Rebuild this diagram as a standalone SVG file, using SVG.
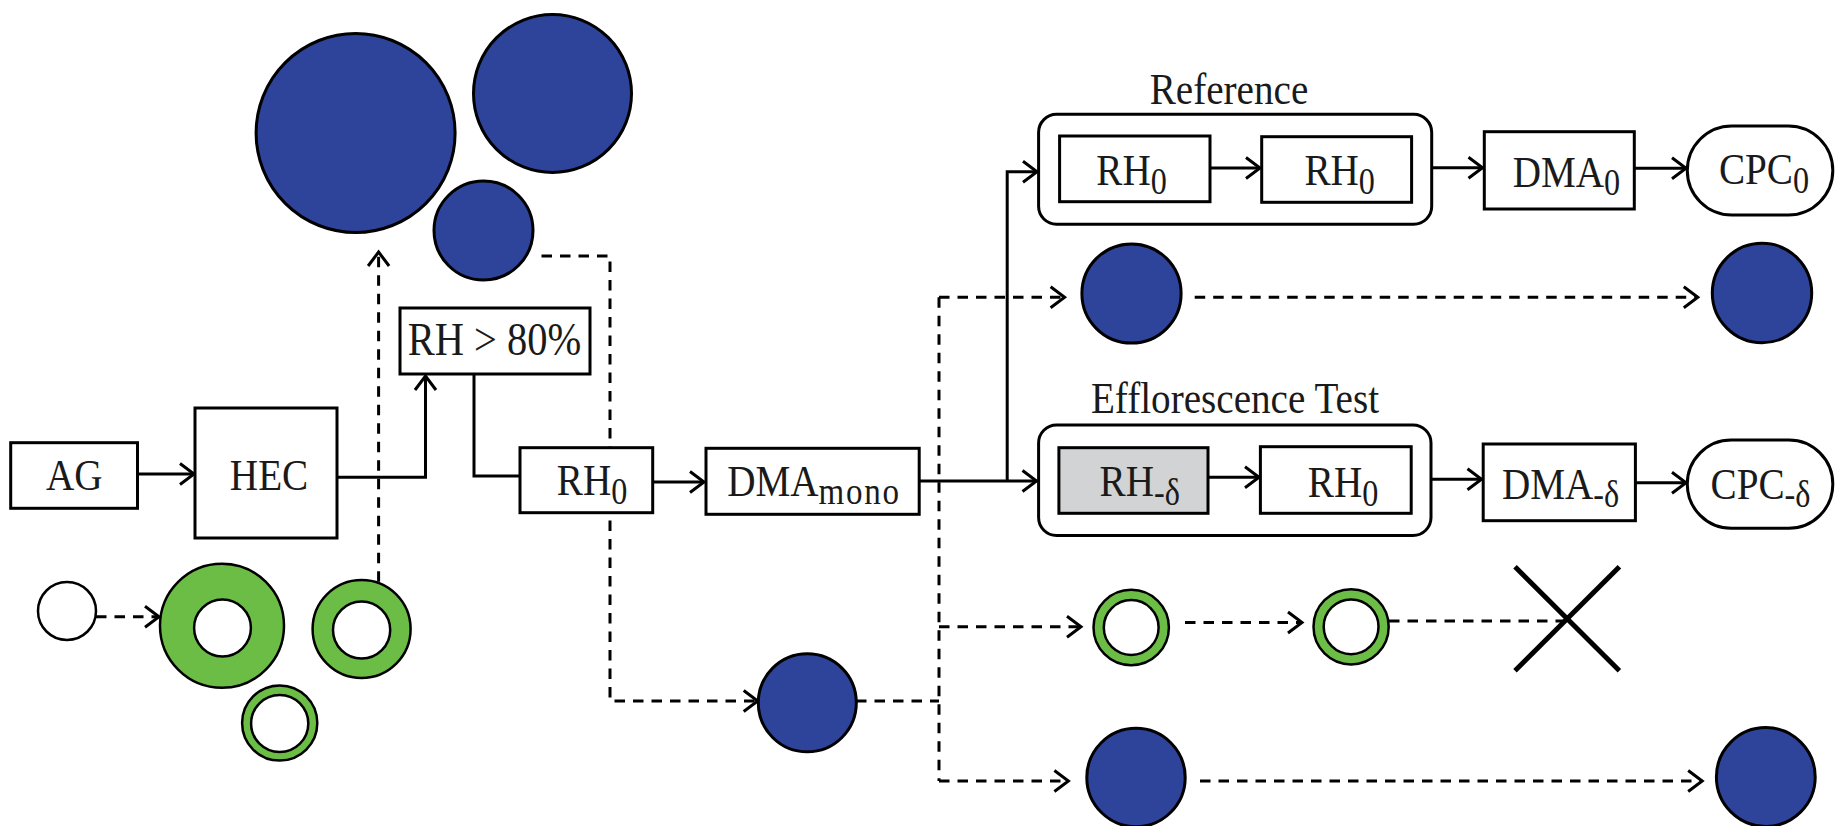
<svg xmlns="http://www.w3.org/2000/svg" width="1835" height="826" viewBox="0 0 1835 826">
<style>
.box{fill:#fff;stroke:#000;stroke-width:3}
.frame{fill:none;stroke:#000;stroke-width:3}
.gray{fill:#d1d3d4;stroke:#000;stroke-width:3}
.blue{fill:#2e449b;stroke:#000;stroke-width:3}
.green{fill:#6bbd45;stroke:#000;stroke-width:2.5}
.hole{fill:#fff;stroke:#000;stroke-width:2.5}
.ln{fill:none;stroke:#000;stroke-width:3}
.dl{fill:none;stroke:#000;stroke-width:3;stroke-dasharray:10.5 8}
.t{font-family:"Liberation Serif","Times New Roman",serif;font-size:45px;fill:#1a1a1a;text-anchor:middle}
.s{font-size:37px}
</style>
<defs>
<marker id="ah" markerUnits="userSpaceOnUse" markerWidth="30" markerHeight="30" viewBox="-20 -15 25 30" refX="0" refY="0" orient="auto" overflow="visible">
<path d="M-14,-10.5 L0,0 L-14,10.5" fill="none" stroke="#000" stroke-width="3" stroke-dasharray="none"/>
</marker>
</defs>

<g id="connectors">
<line class="ln" x1="137.5" y1="474" x2="194" y2="474" marker-end="url(#ah)"/>
<polyline class="ln" points="337,477.3 425.5,477.3 425.5,376" marker-end="url(#ah)"/>
<polyline class="ln" points="474,374 474,476 520,476"/>
<line class="ln" x1="652.7" y1="482" x2="704" y2="482" marker-end="url(#ah)"/>
<polyline class="ln" points="919,481 1036.5,481" marker-end="url(#ah)"/>
<polyline class="ln" points="1007.2,481 1007.2,171.7 1037,171.7" marker-end="url(#ah)"/>
<line class="ln" x1="1210" y1="168" x2="1260" y2="168" marker-end="url(#ah)"/>
<line class="ln" x1="1431.7" y1="167.7" x2="1482.5" y2="167.7" marker-end="url(#ah)"/>
<line class="ln" x1="1634.3" y1="168.3" x2="1686" y2="168.3" marker-end="url(#ah)"/>
<line class="ln" x1="1208" y1="477.3" x2="1259" y2="477.3" marker-end="url(#ah)"/>
<line class="ln" x1="1431" y1="479.3" x2="1481.5" y2="479.3" marker-end="url(#ah)"/>
<line class="ln" x1="1635.4" y1="482.7" x2="1686" y2="482.7" marker-end="url(#ah)"/>

<line class="dl" x1="96" y1="616.7" x2="159" y2="616.7" marker-end="url(#ah)"/>
<line class="dl" x1="378.6" y1="581.7" x2="378.6" y2="252" marker-end="url(#ah)"/>
<polyline class="dl" points="541.5,256 610,256 610,701 757.7,701" marker-end="url(#ah)"/>
<line class="dl" x1="856" y1="701" x2="939" y2="701"/>
<line class="dl" x1="939" y1="297.3" x2="939" y2="781"/>
<line class="dl" x1="939" y1="297.3" x2="1064.6" y2="297.3" marker-end="url(#ah)"/>
<line class="dl" x1="1194.7" y1="297.3" x2="1697.8" y2="297.3" marker-end="url(#ah)"/>
<line class="dl" x1="939" y1="626.7" x2="1081" y2="626.7" marker-end="url(#ah)"/>
<line class="dl" x1="1185" y1="622.5" x2="1302" y2="622.5" marker-end="url(#ah)"/>
<line class="dl" x1="1389" y1="621" x2="1566" y2="621"/>
<line class="dl" x1="939" y1="781" x2="1068.4" y2="781" marker-end="url(#ah)"/>
<line class="dl" x1="1200" y1="781" x2="1702.2" y2="781" marker-end="url(#ah)"/>
</g>

<g id="particles-top">
<circle class="blue" cx="355.6" cy="133" r="99.5"/>
<circle class="blue" cx="552.5" cy="93.5" r="79"/>
<circle class="blue" cx="483.5" cy="230.5" r="49.5"/>
</g>

<g id="particles-left">
<circle class="hole" cx="67" cy="611" r="29"/>
<circle class="green" cx="222" cy="625.8" r="62"/>
<circle class="hole" cx="222.5" cy="628" r="28.4"/>
<circle class="green" cx="361.6" cy="629" r="49"/>
<circle class="hole" cx="361.6" cy="630" r="28.6"/>
<circle class="green" cx="279.7" cy="723" r="37.6"/>
<circle class="hole" cx="279.7" cy="723.5" r="28.6"/>
</g>

<g id="node-AG">
<rect class="box" x="10.7" y="442.7" width="126.8" height="65.6"/>
<text class="t" transform="translate(74.2,490) scale(0.87,1)">AG</text>
</g>
<g id="node-HEC">
<rect class="box" x="195" y="408" width="142" height="130"/>
<text class="t" transform="translate(269,490) scale(0.87,1)">HEC</text>
</g>
<g id="node-RH80">
<rect class="box" x="400" y="308" width="190" height="66"/>
<text class="t" transform="translate(494.5,355) scale(0.88,1)" style="font-size:46px">RH &gt; 80%</text>
</g>
<g id="node-RH0">
<rect class="box" x="520" y="447.7" width="132.7" height="65"/>
<text class="t" transform="translate(592,495) scale(0.87,1)">RH<tspan class="s" dy="9">0</tspan></text>
</g>
<g id="node-DMAmono">
<rect class="box" x="706" y="448.3" width="213.2" height="66"/>
<text class="t" transform="translate(814,495.5) scale(0.87,1)">DMA<tspan class="s" dy="8" style="font-size:38px;letter-spacing:2px">mono</tspan></text>
</g>

<g id="node-Reference">
<text class="t" transform="translate(1229,104) scale(0.87,1)">Reference</text>
<rect class="frame" x="1038.6" y="114.3" width="393.1" height="110" rx="18"/>
<rect class="box" x="1059.6" y="136" width="150.4" height="65.7"/>
<text class="t" transform="translate(1131.5,185) scale(0.87,1)">RH<tspan class="s" dy="9">0</tspan></text>
<rect class="box" x="1261.7" y="136.7" width="149.9" height="65.6"/>
<text class="t" transform="translate(1339.6,185) scale(0.87,1)">RH<tspan class="s" dy="9">0</tspan></text>
</g>
<g id="node-DMA0">
<rect class="box" x="1484.3" y="131.7" width="150" height="77.3"/>
<text class="t" transform="translate(1566.5,186.7) scale(0.87,1)">DMA<tspan class="s" dy="8">0</tspan></text>
</g>
<g id="node-CPC0">
<rect class="box" x="1687.3" y="126" width="145.5" height="89" rx="44.5"/>
<text class="t" transform="translate(1764,184) scale(0.87,1)">CPC<tspan class="s" dy="9">0</tspan></text>
</g>

<g id="node-Efflorescence">
<text class="t" transform="translate(1235,413.3) scale(0.87,1)">Efflorescence Test</text>
<rect class="frame" x="1038.6" y="425" width="392.4" height="110.5" rx="18"/>
<rect class="gray" x="1058.9" y="447.7" width="149.1" height="65.6"/>
<text class="t" transform="translate(1139.7,496) scale(0.87,1)">RH<tspan class="s" dy="9">-δ</tspan></text>
<rect class="box" x="1260.4" y="446.7" width="150.8" height="66.6"/>
<text class="t" transform="translate(1343,496.7) scale(0.87,1)">RH<tspan class="s" dy="9">0</tspan></text>
</g>
<g id="node-DMAd">
<rect class="box" x="1483.2" y="444" width="152.2" height="76.7"/>
<text class="t" transform="translate(1560.6,499) scale(0.87,1)">DMA<tspan class="s" dy="8">-δ</tspan></text>
</g>
<g id="node-CPCd">
<rect class="box" x="1687.3" y="440" width="145.5" height="88.3" rx="44"/>
<text class="t" transform="translate(1760.5,499.3) scale(0.87,1)">CPC<tspan class="s" dy="8">-δ</tspan></text>
</g>

<g id="particles-right">
<circle class="blue" cx="807.3" cy="702.8" r="49"/>
<circle class="blue" cx="1131.5" cy="293.5" r="49.6"/>
<circle class="blue" cx="1762" cy="293" r="49.7"/>
<circle class="green" cx="1131.2" cy="627.5" r="37.7"/>
<circle class="hole" cx="1131.2" cy="627.5" r="27.4"/>
<circle class="green" cx="1351.1" cy="626.8" r="37.6"/>
<circle class="hole" cx="1351.1" cy="626.8" r="27.4"/>
<circle class="blue" cx="1136" cy="777.5" r="49.2"/>
<circle class="blue" cx="1765.8" cy="777" r="49.4"/>
</g>

<g id="cross">
<line x1="1515" y1="566.7" x2="1619.4" y2="670.7" stroke="#000" stroke-width="5"/>
<line x1="1619.4" y1="566.7" x2="1515" y2="670.7" stroke="#000" stroke-width="5"/>
</g>
</svg>
